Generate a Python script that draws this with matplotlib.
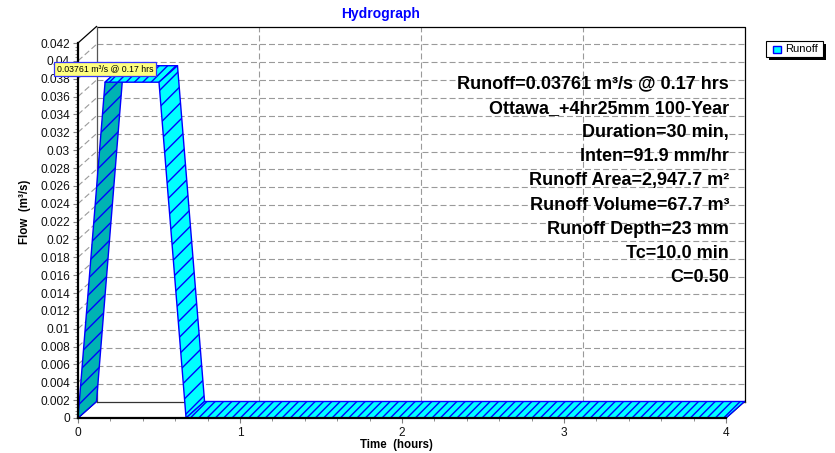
import numpy as np
import matplotlib
matplotlib.use("Agg")
import matplotlib.pyplot as plt
from matplotlib import transforms
from matplotlib.patches import Polygon, Rectangle
from matplotlib.lines import Line2D

plt.rcParams['font.family'] = ['Liberation Sans', 'DejaVu Sans']
plt.rcParams['lines.scale_dashes'] = False
plt.rcParams['hatch.linewidth'] = 1.0

# ---------------- data ----------------
time_hr = [0.0, 0.167, 0.5, 0.667, 4.0]
flow_cms = [0.0, 0.03761, 0.03761, 0.0, 0.0]
series_name = "Runoff"
peak_label = "0.03761 m³/s @ 0.17 hrs"
x_ticks = [0, 1, 2, 3, 4]
y_ticks = [0.0, 0.002, 0.004, 0.006, 0.008, 0.01, 0.012, 0.014, 0.016, 0.018,
           0.02, 0.022, 0.024, 0.026, 0.028, 0.03, 0.032, 0.034, 0.036, 0.038,
           0.04, 0.042]
y_tick_labels = ["0", "0.002", "0.004", "0.006", "0.008", "0.01", "0.012", "0.014",
                 "0.016", "0.018", "0.02", "0.022", "0.024", "0.026", "0.028", "0.03",
                 "0.032", "0.034", "0.036", "0.038", "0.04", "0.042"]
info_lines = ["Runoff=0.03761 m³/s @ 0.17 hrs",
              "Ottawa_+4hr25mm 100-Year",
              "Duration=30 min,",
              "Inten=91.9 mm/hr",
              "Runoff Area=2,947.7 m²",
              "Runoff Volume=67.7 m³",
              "Runoff Depth=23 mm",
              "Tc=10.0 min",
              "C=0.50"]

# ---------------- layout ----------------
W, H, DPI = 835, 453, 100
fig = plt.figure(figsize=(W / DPI, H / DPI), dpi=DPI)
fig.patch.set_facecolor("white")
X0, X1, YB, YT = 78, 726, 418, 43          # front plane in image pixels
DX, DY = 18.5, 16.5                        # depth offset (pixels)
ax = fig.add_axes([X0 / W, 1 - YB / H, (X1 - X0) / W, (YB - YT) / H])
ax.set_xlim(0, 4)
ax.set_ylim(0, 0.042)
ax.patch.set_visible(False)
for s in ("top", "right"):
    ax.spines[s].set_visible(False)
for s in ("left", "bottom"):
    ax.spines[s].set_linewidth(1.6)
    ax.spines[s].set_color("black")
    ax.spines[s].set_zorder(2.5)

ax.set_xticks(x_ticks)
ax.set_xticklabels([str(v) for v in x_ticks])
ax.set_xticks(np.arange(0, 4.01, 0.2), minor=True)
ax.set_yticks(y_ticks)
ax.set_yticklabels(y_tick_labels)
ax.set_yticks(np.arange(0, 0.04201, 0.0004), minor=True)
ax.tick_params(axis="both", which="major", direction="out", length=3.5, width=0.8,
               color="#808080", labelsize=8.6, labelcolor="#111111")
ax.tick_params(axis="both", which="minor", direction="out", length=2.0, width=0.6,
               color="#808080")
ax.tick_params(axis="y", which="major", pad=2.2)
ax.tick_params(axis="x", which="major", pad=3.0)

back = ax.transData + transforms.ScaledTranslation(DX / DPI, DY / DPI, fig.dpi_scale_trans)
ident = transforms.IdentityTransform()
GRID = "#9a9a9a"
DASH = (0, (4.3, 2.2))


def fpx(x, y):
    return ax.transData.transform((x, y))


def bpx(x, y):
    return fpx(x, y) + np.array([DX, DY])


# back-plane grid
for yv in y_ticks[1:-1]:
    ax.plot([0, 4], [yv, yv], transform=back, color=GRID, lw=0.8, ls=DASH,
            clip_on=False, zorder=0.5)
for xv in x_ticks[1:-1]:
    ax.plot([xv, xv], [0, 0.042], transform=back, color=GRID, lw=0.8, ls=DASH,
            clip_on=False, zorder=0.5)

# left wall diagonals
for yv in y_ticks[1:-1]:
    p0, p1 = fpx(0, yv), bpx(0, yv)
    ax.add_line(Line2D([p0[0], p1[0]], [p0[1], p1[1]], transform=ident, color=GRID,
                       lw=0.8, ls=DASH, clip_on=False, zorder=0.5))

# back frame
ax.plot([0, 4, 4], [0.042, 0.042, 0], transform=back, color="black", lw=0.9,
        clip_on=False, zorder=0.8)
ax.plot([0, 0], [0, 0.042], transform=back, color="#555555", lw=0.9,
        clip_on=False, zorder=0.8)
ax.plot([0, 4], [0, 0], transform=back, color="#333333", lw=0.9,
        clip_on=False, zorder=0.8)
for (xv, yv) in [(0, 0.042), (0, 0), (4, 0)]:
    p0, p1 = fpx(xv, yv), bpx(xv, yv)
    ax.add_line(Line2D([p0[0], p1[0]], [p0[1], p1[1]], transform=ident,
                       color="black", lw=0.9, clip_on=False, zorder=0.9))

# 3-D ribbon
for i in range(len(time_hr) - 1):
    f0 = fpx(time_hr[i], flow_cms[i])
    f1 = fpx(time_hr[i + 1], flow_cms[i + 1])
    b0, b1 = f0 + [DX, DY], f1 + [DX, DY]
    dq = flow_cms[i + 1] - flow_cms[i]
    if dq > 0:
        fc, hatch = "#00b3b3", "//"
    elif dq < 0:
        fc, hatch = "#00ffff", "//"
    else:
        fc, hatch = "#00ffff", "////"
    ax.add_patch(Polygon([f0, f1, b1, b0], closed=True, transform=ident,
                         facecolor=fc, edgecolor="#0000ff", lw=1.0, hatch=hatch,
                         joinstyle="round", clip_on=False, zorder=2))

# peak tooltip
ax.annotate(peak_label, xy=(time_hr[1], flow_cms[1]), xytext=(0, 13),
            textcoords="offset pixels", ha="center", va="center", fontsize=6.3,
            color="black", annotation_clip=False, zorder=6,
            bbox=dict(boxstyle="square,pad=0.32", facecolor="#ffff80",
                      edgecolor="#3333ff", lw=0.9))

# info text
for k, line in enumerate(info_lines):
    fig.text(729 / W, 1 - (84 + k * 24.25) / H, line, ha="right", va="center",
             fontsize=13, fontweight="bold", color="black", zorder=5)

# titles
fig.text(381 / W, 1 - 14 / H, "Hydrograph", ha="center", va="center",
         fontsize=10, fontweight="bold", color="#0000ff")
fig.text(396 / W, 1 - 445 / H, "Time  (hours)", ha="center", va="center",
         fontsize=8.3, fontweight="bold", color="black")
fig.text(25 / W, 1 - 212 / H, "Flow  (m³/s)", ha="center", va="center",
         rotation=90, fontsize=8.3, fontweight="bold", color="black")

# legend (figure pixels)
def rect_img(x0, y0, x1, y1, **kw):
    return Rectangle((x0, H - y1), x1 - x0, y1 - y0, transform=ident, **kw)

fig.add_artist(rect_img(769, 44, 826, 60, facecolor="black", edgecolor="black", lw=0))
fig.add_artist(rect_img(766, 41, 823, 57, facecolor="white", edgecolor="black", lw=0.8))
fig.add_artist(rect_img(773, 45.5, 780.5, 53, facecolor="#00ffff", edgecolor="#0000ff", lw=1.0))
fig.text(785 / W, 1 - 49.5 / H, series_name, ha="left", va="center", fontsize=8,
         color="black")

fig.savefig("out.png", dpi=DPI, facecolor="white")
